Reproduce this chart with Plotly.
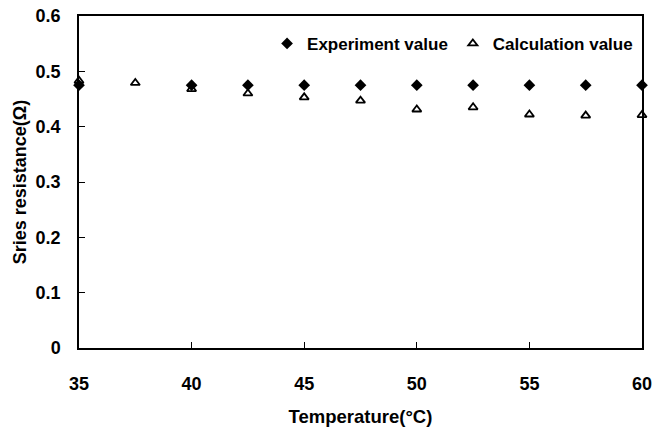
import plotly.graph_objects as go

temperature = [35, 37.5, 40, 42.5, 45, 47.5, 50, 52.5, 55, 57.5, 60]
experiment_temp = [35, 40, 42.5, 45, 47.5, 50, 52.5, 55, 57.5, 60]
experiment_value = [0.475, 0.475, 0.475, 0.475, 0.475, 0.475, 0.475, 0.475, 0.475, 0.475]
calculation_value = [0.483, 0.479, 0.468, 0.460, 0.453, 0.447, 0.431, 0.435, 0.422, 0.420, 0.421]

x_ticks = [35, 40, 45, 50, 55, 60]
y_ticks = [0, 0.1, 0.2, 0.3, 0.4, 0.5, 0.6]
y_tick_labels = ["0", "0.1", "0.2", "0.3", "0.4", "0.5", "0.6"]

FONT = "Liberation Sans, Arial, sans-serif"

fig = go.Figure()
fig.add_trace(go.Scatter(
    x=experiment_temp, y=experiment_value, mode="markers", name="Experiment value",
    marker=dict(symbol="diamond", size=9, color="black"),
    cliponaxis=False,
))
fig.add_trace(go.Scatter(
    x=temperature, y=calculation_value, mode="markers", name="Calculation value",
    marker=dict(symbol="triangle-up-open", size=8, color="black", line=dict(width=1.8, color="black")),
    cliponaxis=False,
))

fig.update_layout(
    width=652, height=427,
    margin=dict(l=79, r=10, t=16, b=79),
    paper_bgcolor="white", plot_bgcolor="white",
    font=dict(family=FONT, color="black", weight="bold"),
    showlegend=True,
    legend=dict(
        orientation="h", x=0.993, xanchor="right", y=0.916, yanchor="middle",
        font=dict(size=17, family=FONT, weight="bold"), itemwidth=30, bgcolor="rgba(0,0,0,0)",
        tracegroupgap=0,
    ),
    xaxis=dict(
        range=[35, 60], tickvals=x_ticks, ticks="inside", ticklen=6, tickwidth=1,
        tickcolor="black", showline=True, linecolor="black", linewidth=1.5, mirror=True,
        showgrid=False, zeroline=False, tickfont=dict(size=18, family=FONT, weight="bold"),
        ticklabelstandoff=19, automargin=False, ticklabeloverflow="allow",
        title=dict(text="Temperature(°C)", font=dict(size=18.5, family=FONT, weight="bold"), standoff=18),
    ),
    yaxis=dict(
        range=[0, 0.6], tickvals=y_ticks, ticktext=y_tick_labels, ticks="inside", ticklen=6, tickwidth=1,
        tickcolor="black", showline=True, linecolor="black", linewidth=1.5, mirror=True,
        showgrid=False, zeroline=False, tickfont=dict(size=18, family=FONT, weight="bold"),
        ticklabelstandoff=13, automargin=False, ticklabeloverflow="allow",
        title=dict(text="Sries resistance(Ω)", font=dict(size=18, family=FONT, weight="bold"), standoff=4),
    ),
)

fig.write_html(
    "out.html",
    config={"displayModeBar": False},
    post_script="document.body.style.margin='0';document.body.style.padding='0';",
)
